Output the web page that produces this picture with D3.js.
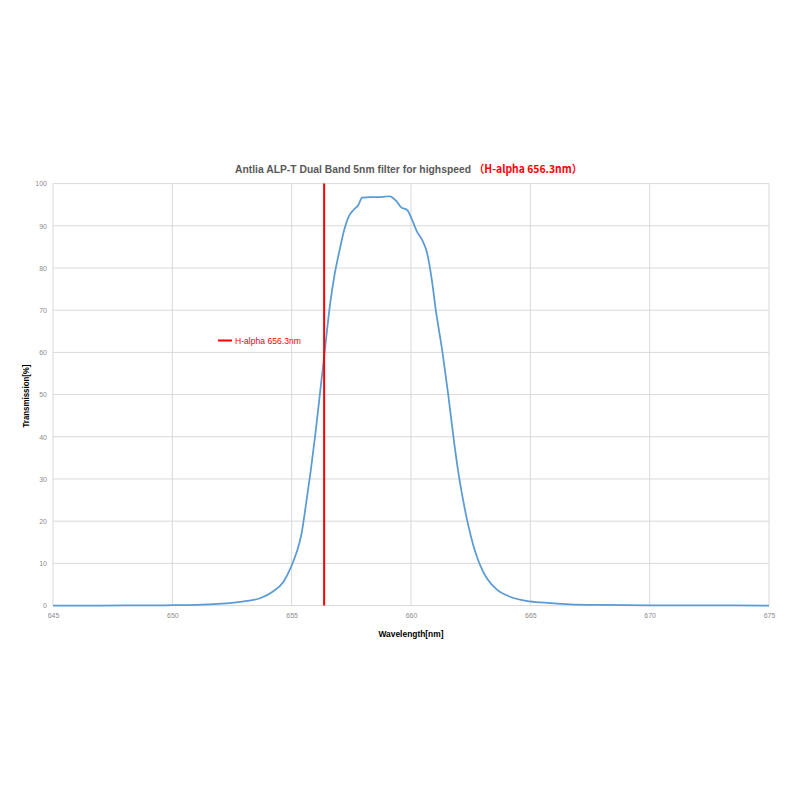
<!DOCTYPE html>
<html>
<head>
<meta charset="utf-8">
<script src="https://cdn.jsdelivr.net/npm/d3@7"></script>
<style>
  body { margin: 0; background: #fff; }
  svg { display: block; font-family: "Liberation Sans", Arial, sans-serif; }
</style>
</head>
<body>
<div id="chart"></div>
<script>
// filter transmission curve
const wavelengths = [645, 647, 649, 650, 651, 651.9, 652.5, 653, 653.7, 654.2,
  654.65, 654.95, 655.2, 655.42, 655.6, 655.8, 656.0, 656.2, 656.4, 656.6,
  656.8, 657.0, 657.2, 657.4, 657.6, 657.8, 657.95, 658.3, 658.6, 658.9,
  659.1, 659.4, 659.6, 659.83, 660.04, 660.25, 660.46, 660.67, 660.87, 661.04,
  661.32, 661.56, 661.8, 662.0, 662.2, 662.4, 662.6, 662.8, 663.0, 663.2,
  663.6, 664.15, 664.98, 665.82, 666.66, 668, 670, 672, 675];
const transmission = [0, 0.02, 0.05, 0.1, 0.2, 0.4, 0.65, 1.0, 1.8, 3.3,
  5.6, 8.8, 12.5, 17.2, 24, 32, 41, 51, 61, 71,
  78.5, 84, 89, 92.3, 93.8, 95, 96.7, 96.8, 96.8, 96.9,
  97.0, 95.8, 94.3, 93.8, 91.5, 88.6, 86.7, 83.6, 77.3, 70,
  60, 50, 39, 31, 24.5, 19, 14.5, 11, 8.3, 6.3,
  3.8, 2.1, 1.0, 0.6, 0.3, 0.15, 0.08, 0.04, 0.02];

const xTicks = [645, 650, 655, 660, 665, 670, 675];
const yTicks = [0, 10, 20, 30, 40, 50, 60, 70, 80, 90, 100];
const hAlpha = 656.36;   // where the red marker sits in the picture
const hAlphaLabel = 'H-alpha 656.3nm';
const titleText = 'Antlia ALP-T Dual Band 5nm filter for highspeed';
const titleRed = '（H-alpha 656.3nm）';

const width = 800, height = 800;
const margin = {left: 53, right: 31, top: 183.6, bottom: 194.4};

const svg = d3.select('#chart')
  .append('svg')
  .attr('width', width)
  .attr('height', height);

const x = d3.scaleLinear().domain([645, 675]).range([margin.left, width - margin.right]);
const y = d3.scaleLinear().domain([0, 100]).range([height - margin.bottom, margin.top]);

// grid
svg.append('g')
  .selectAll('line.h')
  .data(yTicks)
  .enter()
  .append('line')
  .attr('x1', x(645)).attr('x2', x(675))
  .attr('y1', d => y(d)).attr('y2', d => y(d))
  .attr('stroke', '#d9d9d9')
  .attr('stroke-width', 1);

svg.append('g')
  .selectAll('line.v')
  .data(xTicks)
  .enter()
  .append('line')
  .attr('x1', d => x(d)).attr('x2', d => x(d))
  .attr('y1', y(0)).attr('y2', y(100))
  .attr('stroke', '#d9d9d9')
  .attr('stroke-width', 1);

// axes, only the labels are visible
const xAxis = svg.append('g')
  .attr('transform', `translate(0,${y(0)})`)
  .call(d3.axisBottom(x).tickValues(xTicks).tickSize(0).tickPadding(7));
xAxis.select('.domain').remove();
xAxis.selectAll('text')
  .attr('fill', '#8c8c8c')
  .style('font-size', '7px')
  .style('font-family', '"Liberation Sans", Arial, sans-serif');

const yAxis = svg.append('g')
  .attr('transform', `translate(${x(645)},0)`)
  .call(d3.axisLeft(y).tickValues(yTicks).tickSize(0).tickPadding(6));
yAxis.select('.domain').remove();
yAxis.selectAll('text')
  .attr('fill', '#8c8c8c')
  .style('font-size', '7px')
  .style('font-family', '"Liberation Sans", Arial, sans-serif');

// the curve
const points = wavelengths.map((w, i) => [w, transmission[i]]);
const line = d3.line()
  .x(d => x(d[0]))
  .y(d => y(d[1]))
  .curve(d3.curveMonotoneX);

svg.append('path')
  .datum(points)
  .attr('d', line)
  .attr('fill', 'none')
  .attr('stroke', '#5b9bd5')
  .attr('stroke-width', 1.75)
  .attr('stroke-linejoin', 'round');

// H-alpha marker
svg.append('line')
  .attr('x1', x(hAlpha)).attr('x2', x(hAlpha))
  .attr('y1', y(0)).attr('y2', y(100))
  .attr('stroke', '#ff0000')
  .attr('stroke-width', 2);

// legend
svg.append('line')
  .attr('x1', 218).attr('x2', 232)
  .attr('y1', 340.5).attr('y2', 340.5)
  .attr('stroke', '#ff0000')
  .attr('stroke-width', 2);
svg.append('text')
  .attr('x', 235).attr('y', 343.5)
  .attr('fill', '#ff0000')
  .style('font-size', '9px')
  .attr('textLength', 66)
  .attr('lengthAdjust', 'spacingAndGlyphs')
  .text(hAlphaLabel);

// title, gray part then red part
svg.append('text')
  .attr('x', 235).attr('y', 173)
  .attr('fill', '#595959')
  .style('font-size', '11px')
  .style('font-weight', 'bold')
  .attr('textLength', 236)
  .attr('lengthAdjust', 'spacingAndGlyphs')
  .text(titleText);
svg.append('text')
  .attr('x', 474).attr('y', 173)
  .attr('fill', '#ff0000')
  .style('font-size', '11px')
  .style('font-weight', 'bold')
  .style('font-family', '"Noto Sans CJK SC", "Liberation Sans", sans-serif')
  .attr('textLength', 108)
  .attr('lengthAdjust', 'spacingAndGlyphs')
  .text(titleRed);

// axis titles
svg.append('text')
  .attr('x', (x(645) + x(675)) / 2).attr('y', 637)
  .attr('text-anchor', 'middle')
  .attr('fill', '#000')
  .style('font-size', '9px')
  .style('font-weight', 'bold')
  .attr('textLength', 65)
  .attr('lengthAdjust', 'spacingAndGlyphs')
  .text('Wavelength[nm]');

svg.append('text')
  .attr('transform', 'translate(29,396) rotate(-90)')
  .attr('text-anchor', 'middle')
  .attr('fill', '#000')
  .style('font-size', '9px')
  .style('font-weight', 'bold')
  .attr('textLength', 63)
  .attr('lengthAdjust', 'spacingAndGlyphs')
  .text('Transmission[%]');
</script>
</body>
</html>
